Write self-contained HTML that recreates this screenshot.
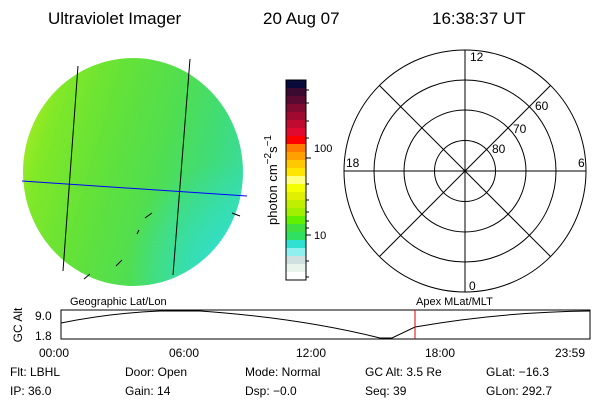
<!DOCTYPE html>
<html><head><style>
body{margin:0;background:#fff;width:600px;height:400px;overflow:hidden}
svg text{font-family:"Liberation Sans",sans-serif;fill:#000}
</style></head><body>
<svg width="600" height="400" viewBox="0 0 600 400" xmlns="http://www.w3.org/2000/svg">
<defs>
<linearGradient id="g1" x1="0" x2="1" y1="0.3" y2="0.6">
<stop offset="0" stop-color="#a8ec20"/><stop offset="0.12" stop-color="#80e828"/><stop offset="0.35" stop-color="#64e238"/><stop offset="0.6" stop-color="#50de50"/><stop offset="0.8" stop-color="#40dc78"/><stop offset="1" stop-color="#38dca8"/>
</linearGradient>
<radialGradient id="g3" cx="0.92" cy="0.9" r="0.45">
<stop offset="0" stop-color="#30e0d8" stop-opacity="0.9"/><stop offset="1" stop-color="#30e0d8" stop-opacity="0"/>
</radialGradient>
<clipPath id="c"><ellipse cx="133" cy="172" rx="110" ry="114"/></clipPath>
</defs>
<text x="48" y="24" font-size="17">Ultraviolet Imager</text>
<text x="263" y="24" font-size="17">20 Aug 07</text>
<text x="432" y="24" font-size="17">16:38:37 UT</text>

<g clip-path="url(#c)">
<rect x="20" y="55" width="230" height="235" fill="url(#g1)"/>
<rect x="20" y="55" width="230" height="235" fill="url(#g3)"/>
<path d="M150 56 Q215 55 245 125 L245 56 Z" fill="#c8f0e8" opacity="0.7"/>
</g>
<line x1="78" y1="66" x2="63" y2="271" stroke="#000"/>
<line x1="190" y1="59" x2="173" y2="275" stroke="#000"/>
<line x1="22" y1="181" x2="247" y2="196" stroke="#0000ff"/>
<path d="M145 218 L152 213 M137 234 L139 230 M116 266 L122 260 M84 279 L90 274 M232 213 L240 216" stroke="#000"/>

<g>
<rect x="286" y="80" width="20" height="8" fill="#0a0a3a"/>
<rect x="286" y="88" width="20" height="8" fill="#3a0a30"/>
<rect x="286" y="96" width="20" height="8" fill="#5a0a30"/>
<rect x="286" y="104" width="20" height="8" fill="#800a30"/>
<rect x="286" y="112" width="20" height="8" fill="#a00a30"/>
<rect x="286" y="120" width="20" height="8" fill="#c00a30"/>
<rect x="286" y="128" width="20" height="8" fill="#e00a30"/>
<rect x="286" y="136" width="20" height="8" fill="#ff0000"/>
<rect x="286" y="144" width="20" height="8" fill="#ff7a00"/>
<rect x="286" y="152" width="20" height="8" fill="#ffa000"/>
<rect x="286" y="160" width="20" height="8" fill="#ffc800"/>
<rect x="286" y="168" width="20" height="8" fill="#ffe600"/>
<rect x="286" y="176" width="20" height="8" fill="#ffff80"/>
<rect x="286" y="184" width="20" height="8" fill="#f4ff00"/>
<rect x="286" y="192" width="20" height="8" fill="#e0f000"/>
<rect x="286" y="200" width="20" height="8" fill="#c0f000"/>
<rect x="286" y="208" width="20" height="8" fill="#a0f000"/>
<rect x="286" y="216" width="20" height="8" fill="#60f000"/>
<rect x="286" y="224" width="20" height="8" fill="#40e040"/>
<rect x="286" y="232" width="20" height="8" fill="#30e060"/>
<rect x="286" y="240" width="20" height="8" fill="#30e0d0"/>
<rect x="286" y="248" width="20" height="8" fill="#90f0f0"/>
<rect x="286" y="256" width="20" height="8" fill="#d0e0e0"/>
<rect x="286" y="264" width="20" height="8" fill="#e8f4ec"/>
<rect x="286" y="272" width="20" height="8" fill="#fff"/>
<rect x="286" y="80" width="20" height="200" fill="none" stroke="#000"/>
<path d="M306 90h3M306 103h3M306 121h3M306 138h3M306 158h5M306 184h3M306 200h3M306 212h3M306 221h3M306 228h3M306 235h5M306 261h3M306 277h3" stroke="#000"/>
<text x="314" y="152" font-size="11">100</text>
<text x="314" y="239" font-size="11">10</text>
<text transform="translate(277 180) rotate(-90)" font-size="13" text-anchor="middle">photon cm<tspan dy="-6" font-size="10">−2</tspan><tspan dy="6">s</tspan><tspan dy="-6" font-size="10">−1</tspan></text>
</g>

<g fill="none" stroke="#000">
<circle cx="465" cy="171" r="121"/>
<circle cx="465" cy="171" r="91"/>
<circle cx="465" cy="171" r="61"/>
<circle cx="465" cy="171" r="30.5"/>
<line x1="465" y1="50" x2="465" y2="292"/>
<line x1="344" y1="171" x2="586" y2="171"/>
<line x1="379.4" y1="85.4" x2="550.6" y2="256.6"/>
<line x1="379.4" y1="256.6" x2="550.6" y2="85.4"/>
</g>
<text x="470" y="61" font-size="12">12</text>
<text x="346" y="167" font-size="12">18</text>
<text x="578" y="167" font-size="12">6</text>
<text x="469" y="290" font-size="12">0</text>
<text x="535" y="110" font-size="12">60</text>
<text x="513" y="133" font-size="12">70</text>
<text x="492" y="153" font-size="12">80</text>

<text x="70" y="305" font-size="11">Geographic Lat/Lon</text>
<text x="416" y="305" font-size="11">Apex MLat/MLT</text>
<rect x="61" y="310" width="529" height="29" fill="none" stroke="#000"/>
<path d="M61 323 Q110 313 160 311 L200 311 Q300 318 380 338 L392 338 L415 327 Q500 312 590 311" fill="none" stroke="#000"/>
<line x1="415" y1="310" x2="415" y2="339" stroke="#e00000"/>
<text x="35" y="320" font-size="12">9.0</text>
<text x="35" y="340" font-size="12">1.8</text>
<text transform="translate(22 325) rotate(-90)" font-size="12" text-anchor="middle">GC Alt</text>
<g font-size="12">
<text x="39" y="357">00:00</text>
<text x="169" y="357">06:00</text>
<text x="296" y="357">12:00</text>
<text x="425" y="357">18:00</text>
<text x="555" y="357">23:59</text>
<text x="10" y="376">Flt: LBHL</text>
<text x="125" y="376">Door: Open</text>
<text x="245" y="376">Mode: Normal</text>
<text x="365" y="376">GC Alt: 3.5 Re</text>
<text x="486" y="376">GLat: −16.3</text>
<text x="10" y="395">IP: 36.0</text>
<text x="125" y="395">Gain: 14</text>
<text x="245" y="395">Dsp:    −0.0</text>
<text x="365" y="395">Seq: 39</text>
<text x="486" y="395">GLon: 292.7</text>
</g>
</svg>
</body></html>
